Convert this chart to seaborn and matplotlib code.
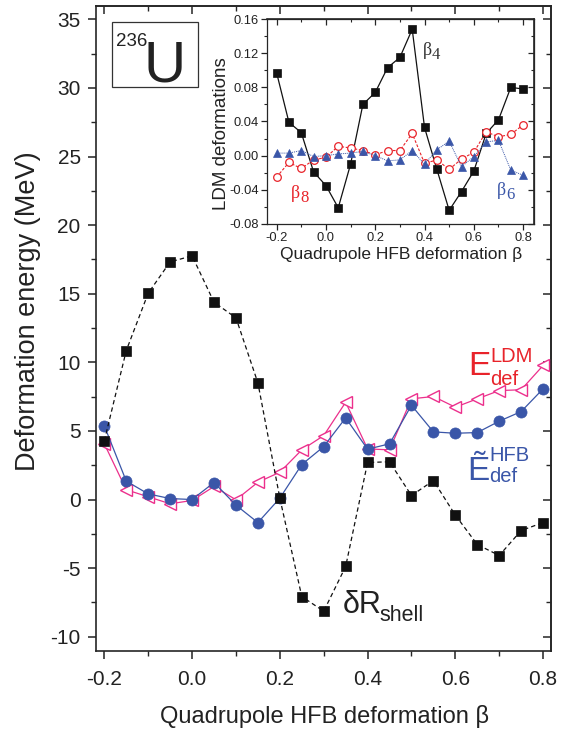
import numpy as np
import pandas as pd
import matplotlib
matplotlib.use("Agg")
import matplotlib.pyplot as plt
import seaborn as sns
from matplotlib.patches import Rectangle
from matplotlib.ticker import MultipleLocator, FormatStrFormatter

# ---------------- data ----------------
beta = [-0.20, -0.15, -0.10, -0.05, 0.00, 0.05, 0.10, 0.15, 0.20, 0.25, 0.30,
        0.35, 0.40, 0.45, 0.50, 0.55, 0.60, 0.65, 0.70, 0.75, 0.80]
delta_r_shell = [4.28, 10.86, 15.04, 17.32, 17.76, 14.38, 13.24, 8.50, 0.10, -7.07, -8.14,
                 -4.88, 2.70, 2.75, 0.29, 1.38, -1.14, -3.28, -4.08, -2.26, -1.68]
e_ldm = [4.06, 0.71, 0.20, -0.31, -0.07, 0.95, -0.02, 1.26, 1.99, 3.62, 4.66,
         7.09, 3.69, 3.62, 7.34, 7.51, 6.73, 7.34, 7.94, 8.00, 9.77]
e_hfb = [5.37, 1.34, 0.41, 0.07, 0.00, 1.24, -0.41, -1.68, 0.10, 2.55, 3.86,
         5.95, 3.67, 4.06, 6.87, 4.93, 4.83, 4.88, 5.71, 6.41, 8.07]

beta4 = [0.097, 0.039, 0.027, -0.019, -0.035, -0.061, -0.010, 0.060, 0.074, 0.103, 0.115,
         0.148, 0.033, -0.016, -0.064, -0.042, -0.018, 0.026, 0.042, 0.080, 0.078]
beta6 = [0.003, 0.003, 0.006, -0.001, 0.000, 0.002, 0.003, 0.005, 0.000, -0.006, -0.005,
         0.006, -0.010, 0.007, 0.017, -0.013, -0.001, 0.016, 0.018, -0.017, -0.023]
beta8 = [-0.025, -0.008, -0.015, -0.005, -0.002, 0.011, 0.009, 0.006, 0.001, 0.006, 0.006,
         0.026, -0.009, -0.005, -0.016, -0.004, 0.004, 0.028, 0.022, 0.025, 0.036]

x_ticks = [-0.2, 0.0, 0.2, 0.4, 0.6, 0.8]
y_ticks_main = [-10, -5, 0, 5, 10, 15, 20, 25, 30, 35]
y_ticks_inset = [-0.08, -0.04, 0.00, 0.04, 0.08, 0.12, 0.16]

# ---------------- style ----------------
sns.set_style("ticks")
plt.rcParams["font.family"] = ["Liberation Sans", "DejaVu Sans"]
plt.rcParams["axes.linewidth"] = 1.2
plt.rcParams["axes.unicode_minus"] = False

BLACK = "#111111"
PINK = "#ec2f8c"
RED = "#e8232a"
BLUE = "#3a56a8"
TXT = "#222222"

W, H = 574, 732
fig = plt.figure(figsize=(W / 100, H / 100), dpi=100)


def fx(px):
    return px / W


def fy(py):
    return 1 - py / H


main = pd.DataFrame({"beta": beta, "shell": delta_r_shell, "ldm": e_ldm, "hfb": e_hfb})
ins = pd.DataFrame({"beta": beta, "b4": beta4, "b6": beta6, "b8": beta8})

# ---------------- main axes ----------------
ax = fig.add_axes([fx(96), fy(651), fx(551) - fx(96), fy(6) - fy(651)])

sns.lineplot(data=main, x="beta", y="ldm", ax=ax, color=PINK, linewidth=0.9,
             marker="<", markersize=9, markerfacecolor="white",
             markeredgecolor=PINK, markeredgewidth=1.0, zorder=3)
sns.lineplot(data=main, x="beta", y="hfb", ax=ax, color=BLUE, linewidth=0.9,
             marker="o", markersize=8, markerfacecolor=BLUE,
             markeredgecolor=BLUE, markeredgewidth=0.5, zorder=4)
sns.lineplot(data=main, x="beta", y="shell", ax=ax, color=BLACK, linewidth=0.9,
             linestyle=(0, (3.5, 2.5)), marker="s", markersize=7.5,
             markerfacecolor=BLACK, markeredgecolor=BLACK, markeredgewidth=0.5,
             zorder=5)

ax.set_xlim(-0.219, 0.818)
ax.set_ylim(-11.04, 35.97)
ax.set_xticks(x_ticks)
ax.set_yticks(y_ticks_main)
ax.xaxis.set_minor_locator(MultipleLocator(0.1))
ax.yaxis.set_minor_locator(MultipleLocator(2.5))
ax.xaxis.set_major_formatter(FormatStrFormatter("%.1f"))
ax.tick_params(which="major", direction="out", length=6, width=1.1, labelsize=15,
               colors=TXT, pad=5)
ax.tick_params(which="minor", direction="out", length=3.5, width=1.0)
ax.tick_params(axis="x", pad=8)

ax.set_xlabel("Quadrupole HFB deformation β", fontsize=17, color=TXT, va="center")
ax.xaxis.set_label_coords(fx(324), fy(716), transform=fig.transFigure)
ax.set_ylabel("Deformation energy (MeV)", fontsize=19.5, color=TXT, va="center")
ax.yaxis.set_label_coords(fx(28), fy(311), transform=fig.transFigure)

for side in ("top", "right"):
    ax.spines[side].set_visible(True)

top = ax.secondary_xaxis("top")
top.set_xticks(x_ticks)
top.xaxis.set_minor_locator(MultipleLocator(0.1))
top.tick_params(which="major", direction="in", length=6, width=1.1, labeltop=False)
top.tick_params(which="minor", direction="in", length=3.5, width=1.0)
right = ax.secondary_yaxis("right")
right.set_yticks(y_ticks_main)
right.yaxis.set_minor_locator(MultipleLocator(2.5))
right.tick_params(which="major", direction="in", length=6, width=1.1, labelright=False)
right.tick_params(which="minor", direction="in", length=3.5, width=1.0)

# nucleus box
fig.patches.append(Rectangle((fx(112), fy(87)), fx(198) - fx(112), fy(22) - fy(87),
                             transform=fig.transFigure, fill=False,
                             edgecolor="#333333", linewidth=0.9))
fig.text(fx(116), fy(46), "236", fontsize=13.5, color=TXT, ha="left", va="baseline")
fig.text(fx(144), fy(82), "U", fontsize=42, color=TXT, ha="left", va="baseline")

# curve labels
fig.text(fx(468), fy(375), "E", fontsize=24, color=RED, ha="left", va="baseline")
fig.text(fx(490), fy(362), "LDM", fontsize=14.5, color=RED, ha="left", va="baseline")
fig.text(fx(490), fy(385), "def", fontsize=14.5, color=RED, ha="left", va="baseline")

fig.text(fx(467), fy(480), "Ẽ", fontsize=24, color=BLUE, ha="left", va="baseline")
fig.text(fx(489), fy(461), "HFB", fontsize=14.5, color=BLUE, ha="left", va="baseline")
fig.text(fx(489), fy(482), "def", fontsize=14.5, color=BLUE, ha="left", va="baseline")

fig.text(fx(343), fy(613), "δR", fontsize=22, color=TXT, ha="left", va="baseline")
fig.text(fx(379), fy(621), "shell", fontsize=15.5, color=TXT, ha="left", va="baseline")

# ---------------- inset ----------------
ax2 = fig.add_axes([fx(267), fy(224), fx(533.5) - fx(267), fy(19) - fy(224)])
ax2.set_facecolor("white")
sns.lineplot(data=ins, x="beta", y="b4", ax=ax2, color=BLACK, linewidth=0.9,
             marker="s", markersize=5.5, markerfacecolor=BLACK,
             markeredgecolor=BLACK, markeredgewidth=0.5, zorder=3)
sns.lineplot(data=ins, x="beta", y="b8", ax=ax2, color=RED, linewidth=0.8,
             linestyle=(0, (2.5, 1.5)), marker="o", markersize=5.5,
             markerfacecolor="white", markeredgecolor=RED, markeredgewidth=0.9,
             zorder=4)
sns.lineplot(data=ins, x="beta", y="b6", ax=ax2, color=BLUE, linewidth=0.7,
             linestyle=(0, (1, 1)), marker="^", markersize=6,
             markerfacecolor=BLUE, markeredgecolor=BLUE, markeredgewidth=0.5,
             zorder=5)
ax2.set_xlim(-0.239, 0.842)
ax2.set_ylim(-0.08, 0.16)
ax2.set_xticks(x_ticks)
ax2.set_yticks(y_ticks_inset)
ax2.xaxis.set_minor_locator(MultipleLocator(0.1))
ax2.yaxis.set_minor_locator(MultipleLocator(0.02))
ax2.xaxis.set_major_formatter(FormatStrFormatter("%.1f"))
ax2.yaxis.set_major_formatter(FormatStrFormatter("%.2f"))
for s in ax2.spines.values():
    s.set_linewidth(0.9)
    s.set_visible(True)
ax2.tick_params(which="major", direction="out", length=4, width=0.9, labelsize=9.3,
                colors=TXT, pad=2)
ax2.tick_params(which="minor", direction="out", length=2.5, width=0.8)
ax2.set_xlabel("Quadrupole HFB deformation β", fontsize=12.5, color=TXT, va="center")
ax2.xaxis.set_label_coords(fx(401), fy(254), transform=fig.transFigure)
ax2.set_ylabel("LDM deformations", fontsize=13.5, color=TXT, va="center")
ax2.yaxis.set_label_coords(fx(221), fy(134), transform=fig.transFigure)

top2 = ax2.secondary_xaxis("top")
top2.set_xticks(x_ticks)
top2.xaxis.set_minor_locator(MultipleLocator(0.1))
top2.tick_params(which="major", direction="in", length=4, width=0.9, labeltop=False)
top2.tick_params(which="minor", direction="in", length=2.5, width=0.8)
right2 = ax2.secondary_yaxis("right")
right2.set_yticks(y_ticks_inset)
right2.yaxis.set_minor_locator(MultipleLocator(0.02))
right2.tick_params(which="major", direction="in", length=4, width=0.9, labelright=False)
right2.tick_params(which="minor", direction="in", length=2.5, width=0.8)

# inset labels (serif beta)
serif = ["Liberation Serif", "DejaVu Serif"]
fig.text(fx(423), fy(55), "β", fontsize=13, family=serif, color="#333333", va="baseline")
fig.text(fx(432), fy(59), "4", fontsize=12, family=serif, color="#333333", va="baseline")
fig.text(fx(291), fy(198), "β", fontsize=13, family=serif, color=RED, va="baseline")
fig.text(fx(300), fy(202), "8", fontsize=12, family=serif, color=RED, va="baseline")
fig.text(fx(497), fy(195), "β", fontsize=13, family=serif, color=BLUE, va="baseline")
fig.text(fx(506), fy(199), "6", fontsize=12, family=serif, color=BLUE, va="baseline")

fig.savefig("out.png", dpi=100)
